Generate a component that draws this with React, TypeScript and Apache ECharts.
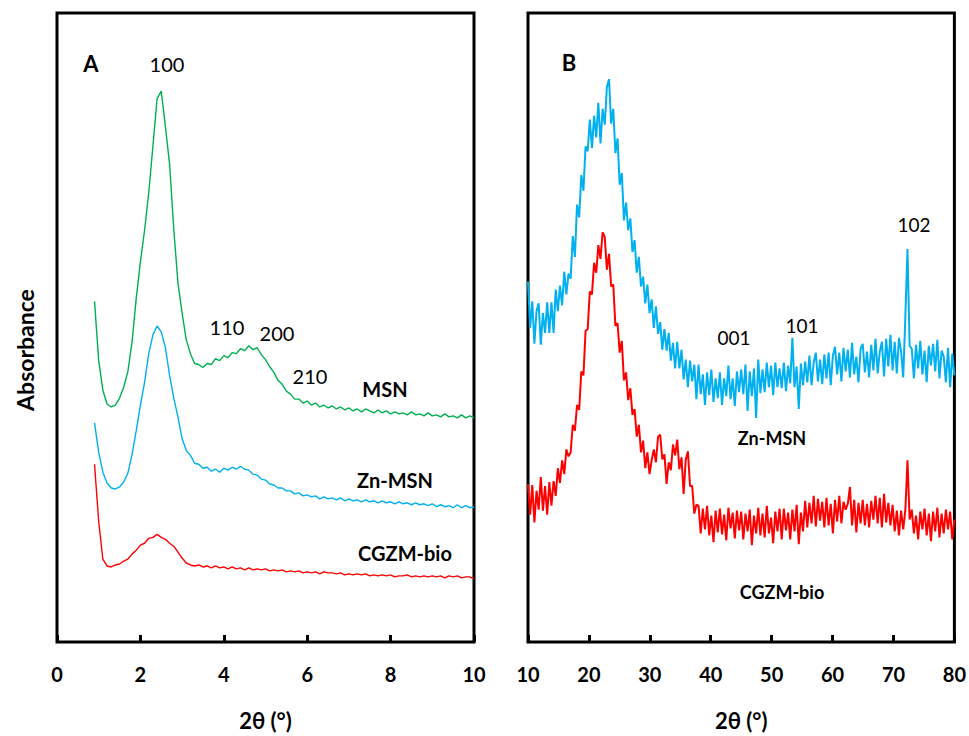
import React, { useEffect, useRef } from "react";
import * as echarts from "echarts";

// Panel A: small-angle XRD, 2θ from 0.9° in 0.1° steps (intensity, a.u.)
const A_START = 0.9;
const A_STEP = 0.1;
const msnA = [
  345, 285, 255, 241, 238, 240, 247, 258, 274, 304,
  348, 385, 417, 455, 502, 550, 558, 522, 484, 418,
  364, 333, 306, 292, 282, 281, 278, 282, 281, 287,
  285, 290, 288, 293, 292, 297, 295, 300, 296, 298,
  291, 286, 279, 273, 265, 261, 254, 251, 246, 246,
  242, 244, 240, 242, 238, 240, 237, 239, 236, 238,
  235, 237, 234, 236, 233, 236, 234, 232, 235, 232,
  234, 231, 233, 231, 232, 230, 233, 230, 231, 229,
  232, 229, 230, 228, 231, 228, 229, 227, 230, 227,
  229, 227,
];
const znMsnA = [
  222, 192, 172, 161, 156, 155, 157, 162, 171, 190,
  214, 240, 263, 292, 311, 320, 314, 298, 270, 247,
  228, 206, 194, 189, 181, 180, 176, 177, 173, 175,
  172, 176, 174, 177, 175, 178, 175, 174, 170, 169,
  165, 164, 160, 159, 156, 156, 153, 153, 150, 151,
  148, 149, 147, 148, 145, 147, 145, 146, 144, 146,
  143, 145, 143, 144, 142, 144, 142, 143, 141, 143,
  141, 142, 140, 142, 140, 141, 139, 141, 139, 140,
  138, 140, 137, 139, 137, 138, 136, 139, 136, 138,
  136, 137,
];
const cgzmA = [
  180, 122, 84, 77, 76, 78, 79, 82, 84, 89,
  93, 98, 100, 105, 106, 109, 106, 104, 100, 97,
  91, 85, 80, 78, 77, 78, 76, 77, 75, 77,
  75, 76, 74, 76, 74, 75, 73, 75, 73, 74,
  73, 74, 72, 73, 72, 73, 71, 72, 71, 72,
  70, 71, 70, 71, 69, 71, 70, 70, 69, 70,
  68, 69, 68, 69, 68, 69, 67, 68, 67, 68,
  67, 68, 66, 67, 67, 68, 66, 67, 66, 67,
  66, 67, 66, 67, 65, 67, 66, 67, 65, 66,
  66, 64,
];

// Panel B: wide-angle XRD, 2θ from 10° in 0.35° steps (intensity, a.u.)
const B_START = 10;
const B_STEP = 0.35;
const znMsnB = [
  365, 318, 345, 302, 335, 343, 301, 333, 313, 344,
  313, 344, 313, 357, 335, 361, 341, 375, 352, 373,
  368, 411, 390, 443, 430, 473, 457, 502, 497, 529,
  500, 533, 511, 546, 505, 540, 524, 562, 570, 525,
  540, 495, 510, 463, 475, 427, 445, 417, 429, 395,
  407, 374, 390, 360, 370, 343, 362, 333, 347, 318,
  340, 312, 324, 296, 317, 295, 313, 285, 303, 277,
  304, 277, 296, 266, 286, 258, 285, 264, 281, 246,
  281, 251, 271, 240, 273, 250, 276, 243, 267, 247,
  273, 240, 267, 249, 280, 246, 267, 239, 274, 253,
  276, 251, 281, 234, 274, 249, 277, 227, 286, 252,
  276, 253, 283, 258, 280, 250, 283, 258, 277, 257,
  283, 254, 280, 262, 308, 258, 279, 236, 282, 260,
  284, 263, 290, 260, 283, 293, 264, 286, 261, 291,
  267, 293, 260, 290, 299, 271, 293, 264, 298, 274,
  296, 268, 303, 271, 289, 263, 297, 302, 273, 294,
  268, 301, 275, 307, 272, 294, 304, 269, 307, 279,
  311, 275, 304, 272, 308, 294, 268, 330, 398, 300,
  297, 267, 301, 277, 305, 271, 295, 263, 300, 280,
  302, 274, 306, 267, 295, 289, 263, 298, 258, 292,
  270,
];
const cgzmB = [
  160, 129, 159, 121, 153, 134, 167, 133, 158, 129,
  162, 138, 163, 148, 176, 161, 184, 170, 195, 188,
  192, 220, 214, 240, 235, 274, 270, 315, 317, 355,
  352, 384, 374, 402, 388, 415, 410, 377, 393, 360,
  362, 320, 323, 293, 305, 265, 273, 245, 257, 230,
  236, 208, 220, 192, 204, 176, 192, 170, 184, 195,
  182, 208, 210, 185, 190, 160, 182, 174, 200, 189,
  205, 175, 187, 150, 185, 193, 158, 158, 130, 139,
  138, 110, 135, 114, 138, 108, 128, 101, 133, 111,
  135, 109, 129, 103, 136, 115, 131, 105, 133, 113,
  132, 104, 130, 112, 134, 98, 128, 110, 136, 108,
  130, 106, 138, 110, 126, 100, 132, 112, 135, 104,
  135, 113, 131, 104, 134, 112, 139, 99, 131, 112,
  143, 116, 141, 120, 148, 117, 145, 123, 142, 116,
  146, 118, 140, 110, 144, 122, 148, 120, 142, 134,
  140, 157, 118, 144, 111, 141, 120, 144, 118, 140,
  116, 143, 124, 148, 120, 146, 116, 150, 121, 141,
  118, 139, 112, 133, 108, 133, 114, 134, 184, 124,
  134, 110, 128, 104, 132, 114, 135, 108, 130, 102,
  132, 112, 136, 106, 130, 110, 134, 114, 132, 104,
  124,
];

const xTicksA = [0, 10, 2];
const xTicksB = [10, 80, 10];
const Y_MAX = 637;

const GREEN = "#00B050";
const BLUE = "#00B0F0";
const RED = "#FF0000";
const FONT = "Lato, 'Open Sans', sans-serif";

const toPairs = (start: number, step: number, arr: number[]) =>
  arr.map((v, i) => [Number((start + i * step).toFixed(2)), v]);

export default function App() {
  const ref = useRef<HTMLDivElement>(null);

  useEffect(() => {
    if (!ref.current) return;
    const chart = echarts.init(ref.current, undefined, { renderer: "svg" });

    const xAxisBase = (gridIndex: number, t: number[]) => ({
      type: "value",
      gridIndex,
      min: t[0],
      max: t[1],
      interval: t[2],
      axisLine: { show: false },
      axisTick: { show: true, inside: true, length: 7, lineStyle: { color: "#000", width: 3 } },
      splitLine: { show: false },
      axisLabel: {
        show: true,
        showMinLabel: true,
        showMaxLabel: true,
        color: "#000",
        fontFamily: FONT,
        fontWeight: "bold",
        fontSize: 20,
        margin: 22,
      },
      name: "2θ (°)",
      nameLocation: "middle",
      nameGap: 78,
      nameTextStyle: {
        color: "#000",
        fontFamily: FONT,
        fontWeight: "bold",
        fontSize: 22,
        verticalAlign: "middle",
      },
    });

    const yAxisBase = (gridIndex: number) => ({
      type: "value",
      gridIndex,
      min: 0,
      max: Y_MAX,
      show: false,
      splitLine: { show: false },
    });

    const line = (name: string, xi: number, data: number[][], color: string, width: number) => ({
      type: "line",
      name,
      xAxisIndex: xi,
      yAxisIndex: xi,
      data,
      showSymbol: false,
      symbol: "none",
      lineStyle: { color, width },
      itemStyle: { color },
      z: 2,
    });

    const txt = (text: string, x: number, y: number, size: number, bold: boolean) => ({
      type: "text",
      x,
      y,
      z: 10,
      style: {
        text,
        fill: "#000",
        font: `${bold ? "bold " : ""}${size}px ${FONT}`,
        align: "center",
        verticalAlign: "middle",
      },
    });

    chart.setOption({
      animation: false,
      backgroundColor: "#fff",
      grid: [
        { left: 57, top: 13, width: 417, height: 637, show: true, borderColor: "#000", borderWidth: 3, backgroundColor: "transparent" },
        { left: 528, top: 13, width: 428, height: 637, show: true, borderColor: "#000", borderWidth: 3, backgroundColor: "transparent" },
      ],
      xAxis: [xAxisBase(0, xTicksA), xAxisBase(1, xTicksB)],
      yAxis: [yAxisBase(0), yAxisBase(1)],
      series: [
        line("MSN", 0, toPairs(A_START, A_STEP, msnA), GREEN, 1.4),
        line("Zn-MSN", 0, toPairs(A_START, A_STEP, znMsnA), BLUE, 1.4),
        line("CGZM-bio", 0, toPairs(A_START, A_STEP, cgzmA), RED, 1.4),
        line("Zn-MSN", 1, toPairs(B_START, B_STEP, znMsnB), BLUE, 2),
        line("CGZM-bio", 1, toPairs(B_START, B_STEP, cgzmB), RED, 2),
      ],
      graphic: [
        {
          type: "text",
          x: 25,
          y: 350,
          rotation: Math.PI / 2,
          style: {
            text: "Absorbance",
            fill: "#000",
            font: `bold 23px ${FONT}`,
            align: "center",
            verticalAlign: "middle",
          },
        },
        txt("A", 91, 63, 22, true),
        txt("100", 167, 64, 20, false),
        txt("110", 227, 327, 20, false),
        txt("200", 277, 333, 20, false),
        txt("210", 310, 376, 20, false),
        txt("MSN", 385, 389, 20, true),
        txt("Zn-MSN", 395, 480, 20, true),
        txt("CGZM-bio", 405, 553, 20, true),
        txt("B", 569, 62, 22, true),
        txt("102", 914, 224, 19, false),
        txt("001", 734, 337, 19, false),
        txt("101", 802, 325, 19, false),
        txt("Zn-MSN", 772, 438, 18, true),
        txt("CGZM-bio", 782, 592, 18, true),
      ],
    });

    return () => chart.dispose();
  }, []);

  return (
    <div
      ref={ref}
      style={{ position: "absolute", left: 0, top: 0, width: 969, height: 736 }}
    />
  );
}
